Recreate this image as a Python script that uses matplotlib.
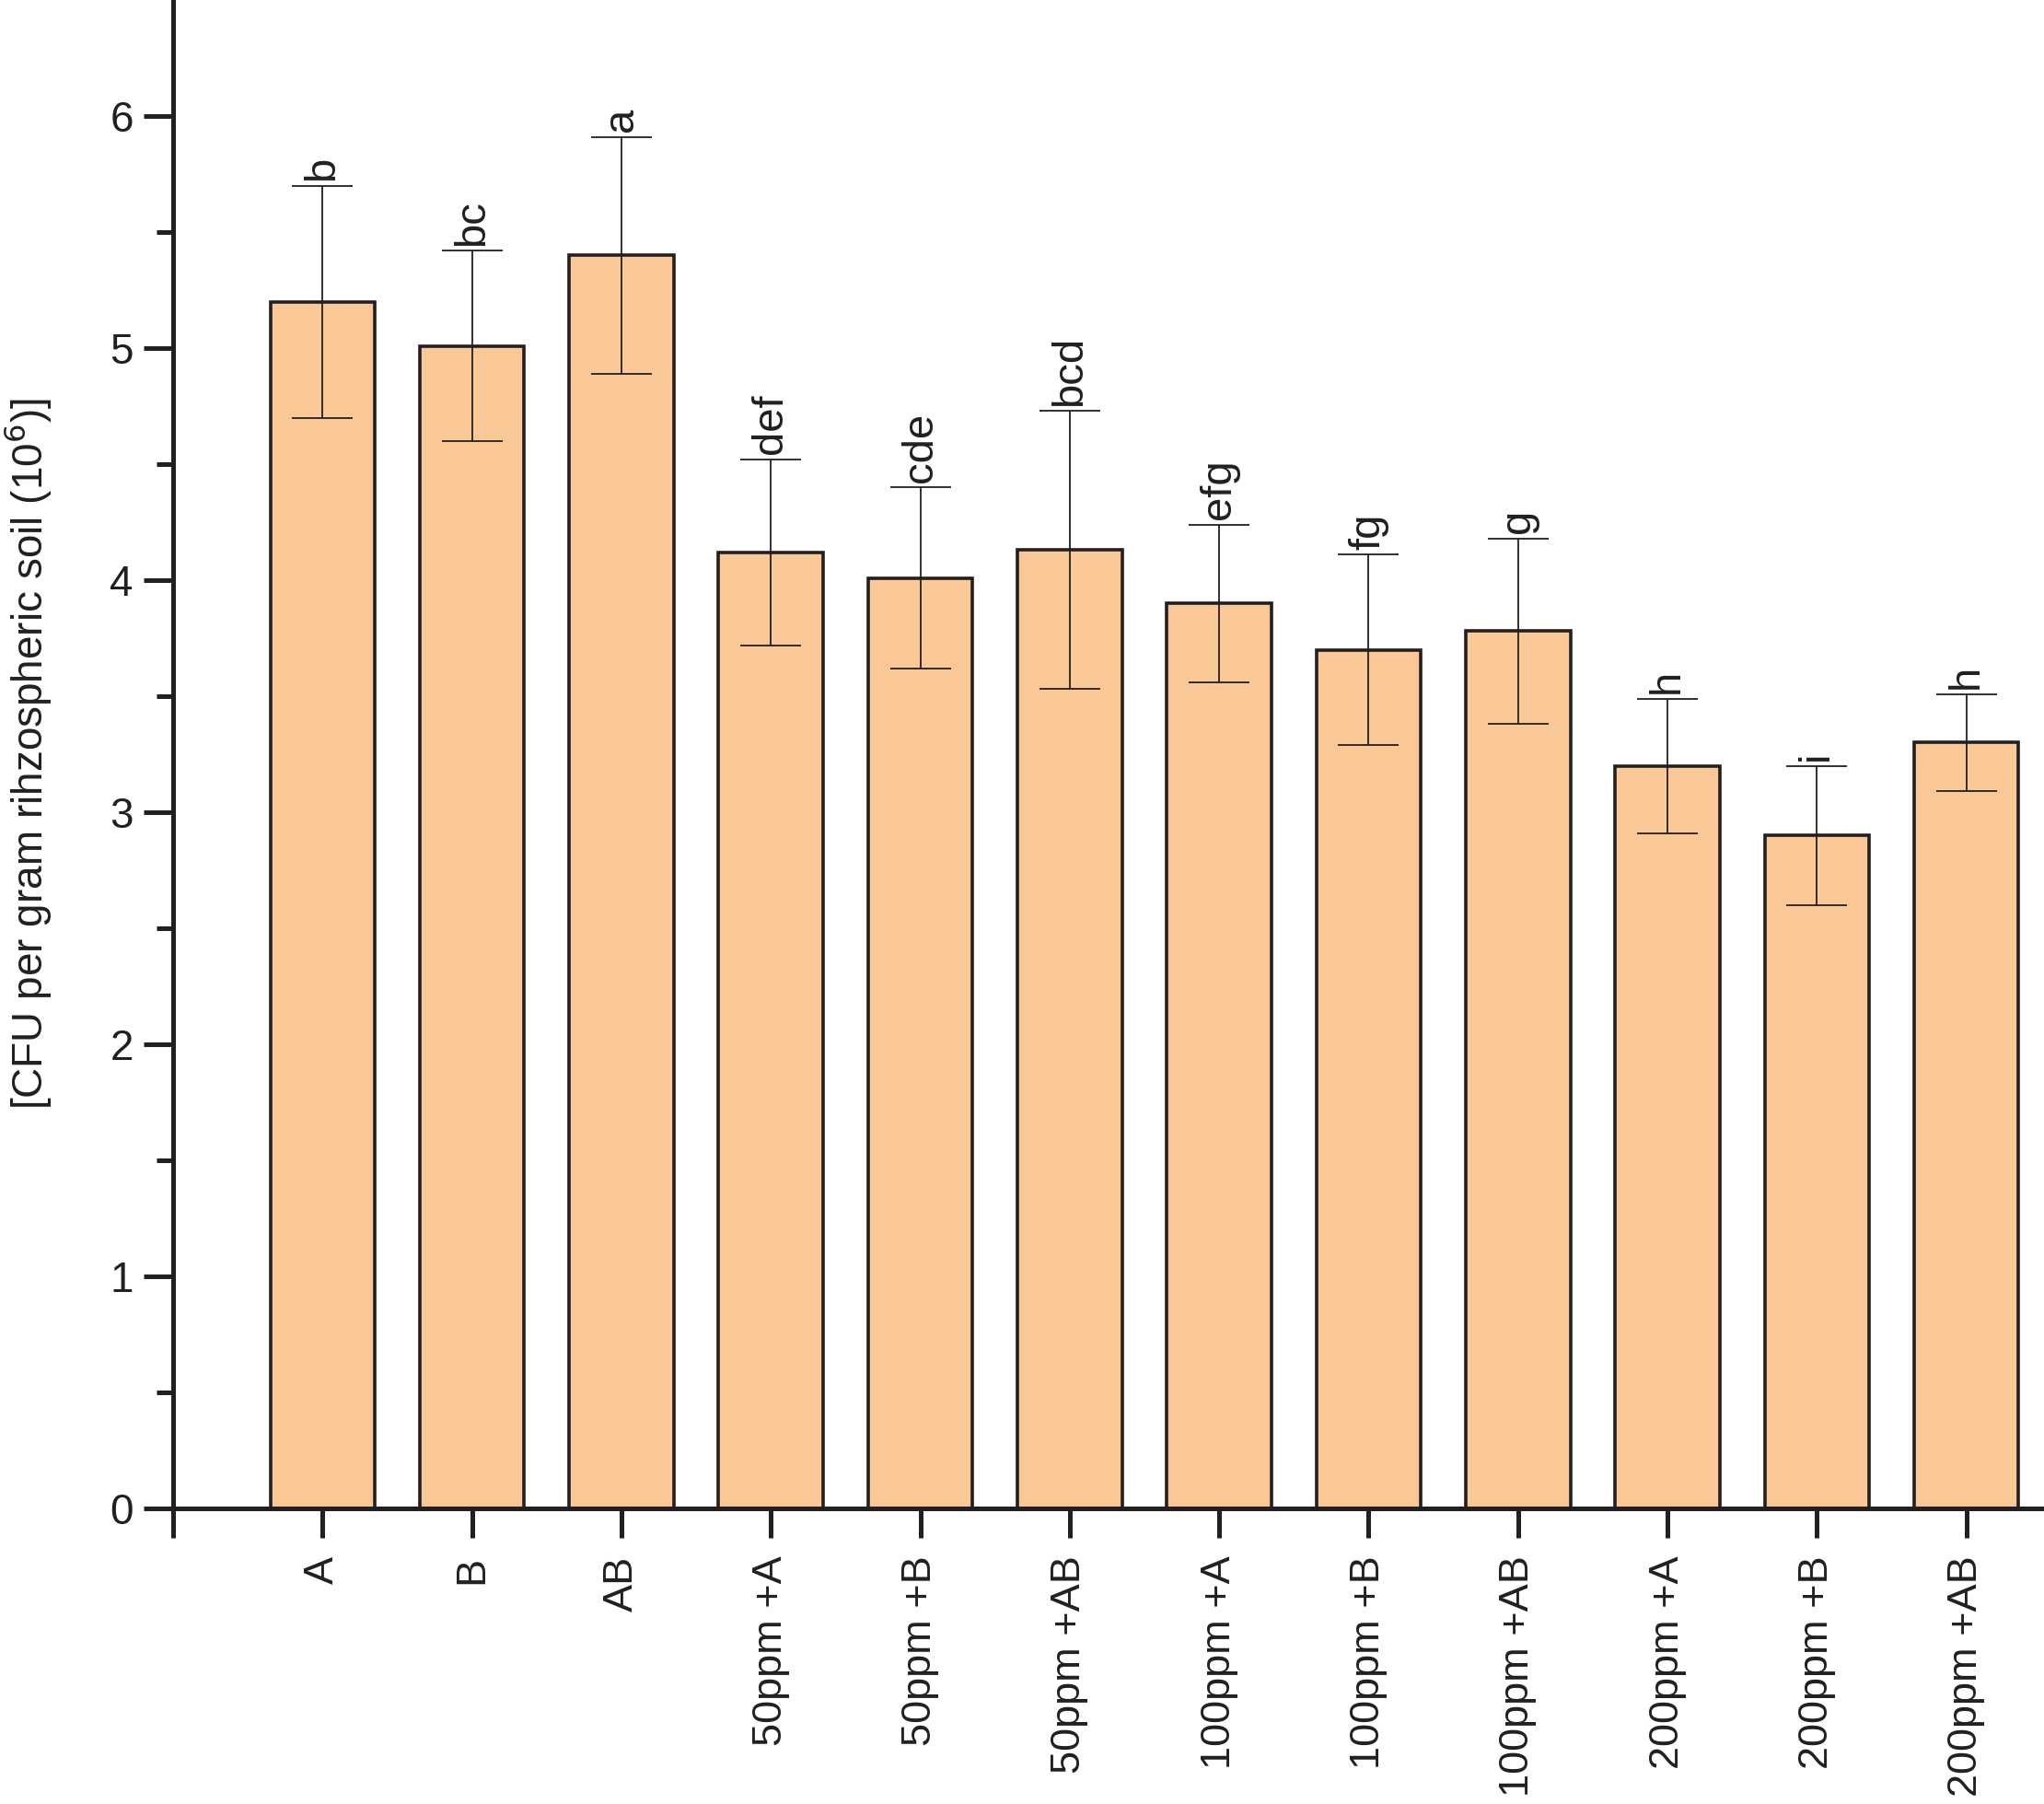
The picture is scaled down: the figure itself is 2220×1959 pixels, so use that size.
"""CFU per gram rhizospheric soil bar chart with significance letters."""

import matplotlib

matplotlib.use("Agg")
import matplotlib.pyplot as plt
import numpy as np

plt.rcParams["font.family"] = ["Liberation Sans", "DejaVu Sans"]

categories = ["A", "B", "AB",
              "50ppm +A", "50ppm +B", "50ppm +AB",
              "100ppm +A", "100ppm +B", "100ppm +AB",
              "200ppm +A", "200ppm +B", "200ppm +AB"]
means = [5.20, 5.01, 5.40, 4.12, 4.01, 4.13, 3.90, 3.70, 3.78, 3.20, 2.90, 3.30]
errors = [0.50, 0.41, 0.51, 0.40, 0.39, 0.60, 0.34, 0.41, 0.40, 0.29, 0.30, 0.21]
letters = ["b", "bc", "a", "def", "cde", "bcd", "efg", "fg", "g", "h", "i", "h"]

bar_color = "#FAC896"
dark = "#231F20"

fig = plt.figure(figsize=(22.2, 19.59), dpi=100)
ax = fig.add_axes([0.0847, 0.1638, 0.9153, 0.8362])

x = np.arange(len(categories))
ax.bar(x, means, width=0.7, color=bar_color, edgecolor=dark, linewidth=2.6, zorder=2)
ax.errorbar(x, means, yerr=errors, fmt="none", ecolor=dark, elinewidth=1.3,
            capsize=24, capthick=1.3, zorder=3)

for xi, m, e, lab in zip(x, means, errors, letters):
    ax.annotate(lab, (xi, m + e), xytext=(0, 4), textcoords="offset points",
                rotation=90, ha="center", va="bottom", fontsize=34, color=dark)

ax.set_xlim(-1.0, 11.52)
ax.set_ylim(0, 6.5)

# extra tick at the left end mimics the axis-line overshoot
ax.set_xticks([-1.0] + list(x))
ax.set_xticklabels([""] + categories, rotation=90, fontsize=32.5, color=dark)
ax.set_yticks(np.arange(0, 7, 1))
ax.set_yticks(np.arange(0.5, 6.5, 1), minor=True)
ax.tick_params(axis="y", labelsize=33, labelcolor=dark)

ax.tick_params(which="major", direction="out", length=23, width=3.6, color=dark, pad=8)
ax.tick_params(which="minor", direction="out", length=13, width=3.6, color=dark)
ax.tick_params(axis="x", pad=14)

for side in ("top", "right"):
    ax.spines[side].set_visible(False)
for side in ("left", "bottom"):
    ax.spines[side].set_linewidth(3.6)
    ax.spines[side].set_color(dark)

ax.set_ylabel("[CFU per gram rihzospheric soil (10$^{6}$)]", fontsize=33,
              color=dark, labelpad=44)

fig.savefig("out.png", dpi=100)
plt.close(fig)
